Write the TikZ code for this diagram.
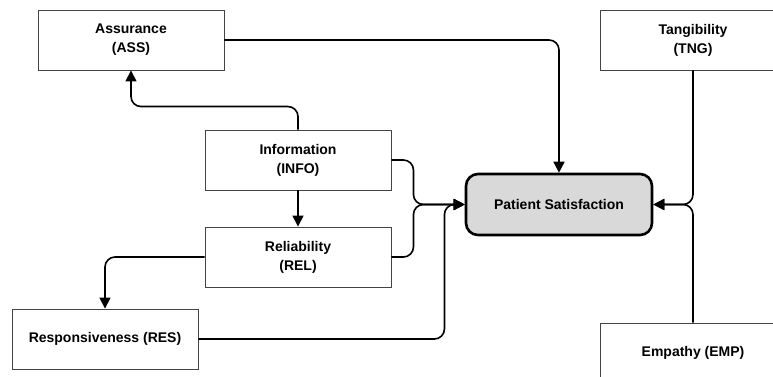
\documentclass[tikz,border=0pt]{standalone}
\usepackage{fontspec}
\setmainfont{Liberation Sans}
\usetikzlibrary{arrows.meta,positioning}
\definecolor{psfill}{HTML}{D9D9D9}
\definecolor{boxline}{HTML}{444444}

\tikzset{
  dim/.style={draw=boxline,line width=0.9pt,fill=white,minimum width=186pt,minimum height=60pt,align=center,inner sep=2pt,font=\fontsize{14}{19}\selectfont\bfseries},
  outcome/.style={dim,draw=black,line width=2.6pt,fill=psfill,rounded corners=12pt,minimum width=186pt,minimum height=61pt},
  link/.style={draw=black,line width=1.6pt,rounded corners=10pt,-{Triangle[length=11pt,width=11pt]}},
  plain/.style={draw=black,line width=1.6pt,rounded corners=10pt}
}

\begin{document}
\begin{tikzpicture}[x=1pt,y=-1pt]
\useasboundingbox (0,0) rectangle (773,377);

% dimensions
\node[dim] (ass) at (131,40) {Assurance\\(ASS)};
\node[dim] (tng) at (693,40) {Tangibility\\(TNG)};
\node[dim] (info) at (298,160) {Information\\(INFO)};
\node[dim] (rel) at (298,257) {Reliability\\(REL)};
\node[dim] (res) at (105,339) {Responsiveness (RES)};
\node[dim] (emp) at (693,353) {Empathy (EMP)};

% outcome
\node[outcome] (ps) at (559,204.5) {Patient Satisfaction};

% links
\draw[link] (ass.east) -| (ps.north);
\draw[link] (info.north) -- ++(0,-23) -| (ass.south);
\draw[link] (info.south) -- (rel.north);
\draw[link] (rel.west) -| (res.north);
\draw[link] (info.east) -- ++(22,0) |- (ps.west);
\draw[link] (rel.east) -- ++(22,0) |- (ps.west);
\draw[link] (res.east) -- ++(246,0) |- (ps.west);
\draw[link] (tng.south) |- (ps.east);
\draw[link] (emp.north) |- (ps.east);
\end{tikzpicture}
\end{document}
